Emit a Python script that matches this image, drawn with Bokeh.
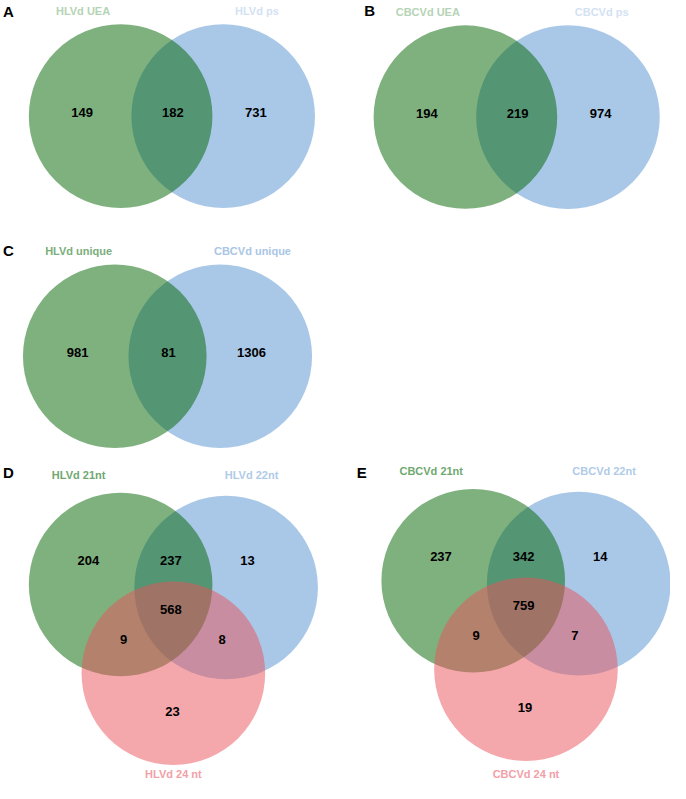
from bokeh.plotting import figure
from bokeh.models import Range1d, ColumnDataSource
from bokeh.core.properties import value
from bokeh.embed import file_html
from bokeh.resources import INLINE

# ---------------- data ----------------
panel_letters = ["A", "B", "C", "D", "E"]

A_sets = ["HLVd UEA", "HLVd ps"]
A_counts = [149, 182, 731]          # only set1, both, only set2

B_sets = ["CBCVd UEA", "CBCVd ps"]
B_counts = [194, 219, 974]

C_sets = ["HLVd unique", "CBCVd unique"]
C_counts = [981, 81, 1306]

D_sets = ["HLVd 21nt", "HLVd 22nt", "HLVd 24 nt"]
# order: 1 only, 1&2, 2 only, 1&2&3, 1&3, 2&3, 3 only
D_counts = [204, 237, 13, 568, 9, 8, 23]

E_sets = ["CBCVd 21nt", "CBCVd 22nt", "CBCVd 24 nt"]
E_counts = [237, 342, 14, 759, 9, 7, 19]

# ---------------- style / layout ----------------
FONT = value("Liberation Sans")
GREEN = "#006400"
BLUE = "#5391D1"
PINK = "#E95159"
R = 94

W, H = 670, 783
p = figure(width=W, height=H, output_backend="svg", toolbar_location=None,
           x_range=Range1d(0, 686), y_range=Range1d(799, 0), min_border=0)
p.axis.visible = False
p.grid.visible = False
p.outline_line_color = None
p.background_fill_color = "white"
p.border_fill_color = "white"

two_panels = [
    # letter, sets, counts, anchor, half-sep, letter pos, label colours
    ("A", A_sets, A_counts, (175.5, 118), 52.5, (8, 11), ("#b5d3b5", "#d3e2f3")),
    ("B", B_sets, B_counts, (528.5, 119), 52.5, (378, 10), ("#b5d3b5", "#d3e2f3")),
    ("C", C_sets, C_counts, (171, 363), 54, (8, 255), ("#7aae7a", "#a9c6e6")),
]
three_panels = [
    ("D", D_sets, D_counts, (177, 597.5), (8, 482), ("#70a870", "#b0cbe8", "#f2a0a8")),
    ("E", E_sets, E_counts, (538, 593.5), (370, 482), ("#70a870", "#b0cbe8", "#f2a0a8")),
]

circ = dict(x=[], y=[], c=[])
nums = dict(x=[], y=[], t=[])
labs = dict(x=[], y=[], t=[], c=[])
lets = dict(x=[], y=[], t=[])

for letter, sets, counts, (ax, ay), hs, (lx, ly), lc in two_panels:
    # blue first, then green on top
    circ["x"] += [ax + hs, ax - hs]
    circ["y"] += [ay, ay]
    circ["c"] += [BLUE, GREEN]
    offs = [(-92, -4), (1, -4), (86, -4)]
    for (dx, dy), n in zip(offs, counts):
        nums["x"].append(ax + dx); nums["y"].append(ay + dy); nums["t"].append(str(n))
    for (dx, dy), s, c in zip([(-91, -107.5), (87, -107.5)], sets, lc):
        labs["x"].append(ax + dx); labs["y"].append(ay + dy); labs["t"].append(s); labs["c"].append(c)
    lets["x"].append(lx); lets["y"].append(ly); lets["t"].append(letter)

for letter, sets, counts, (ax, ay), (lx, ly), lc in three_panels:
    circ["x"] += [ax + 54, ax - 54, ax]
    circ["y"] += [ay + 1.5, ay - 1.5, ay + 89]
    circ["c"] += [BLUE, GREEN, PINK]
    offs = [(-87, -26.5), (-2.5, -26.5), (76, -26.5), (-2.5, 23.5),
            (-51, 54.5), (50, 54.5), (-1, 128)]
    for (dx, dy), n in zip(offs, counts):
        nums["x"].append(ax + dx); nums["y"].append(ay + dy); nums["t"].append(str(n))
    bottom_y = 789 - ay
    for (dx, dy), s, c in zip([(-97, -113.5), (80, -113.5), (0, bottom_y)], sets, lc):
        labs["x"].append(ax + dx); labs["y"].append(ay + dy); labs["t"].append(s); labs["c"].append(c)
    lets["x"].append(lx); lets["y"].append(ly); lets["t"].append(letter)

# draw circles one by one to keep order (blue, green, pink)
for x, y, c in zip(circ["x"], circ["y"], circ["c"]):
    p.circle(x=[x], y=[y], radius=R, fill_color=c, fill_alpha=0.5, line_color=None)

p.text(x="x", y="y", text="t", source=ColumnDataSource(nums),
       text_align="center", text_baseline="middle", text_font=FONT,
       text_font_style="bold", text_font_size="13px", text_color="black")
p.text(x="x", y="y", text="t", text_color="c", source=ColumnDataSource(labs),
       text_align="center", text_baseline="middle", text_font=FONT,
       text_font_style="bold", text_font_size="11px")
p.text(x="x", y="y", text="t", source=ColumnDataSource(lets),
       text_align="center", text_baseline="middle", text_font=FONT,
       text_font_style="bold", text_font_size="15px", text_color="black")

open("out.html", "w").write(file_html(p, INLINE))
